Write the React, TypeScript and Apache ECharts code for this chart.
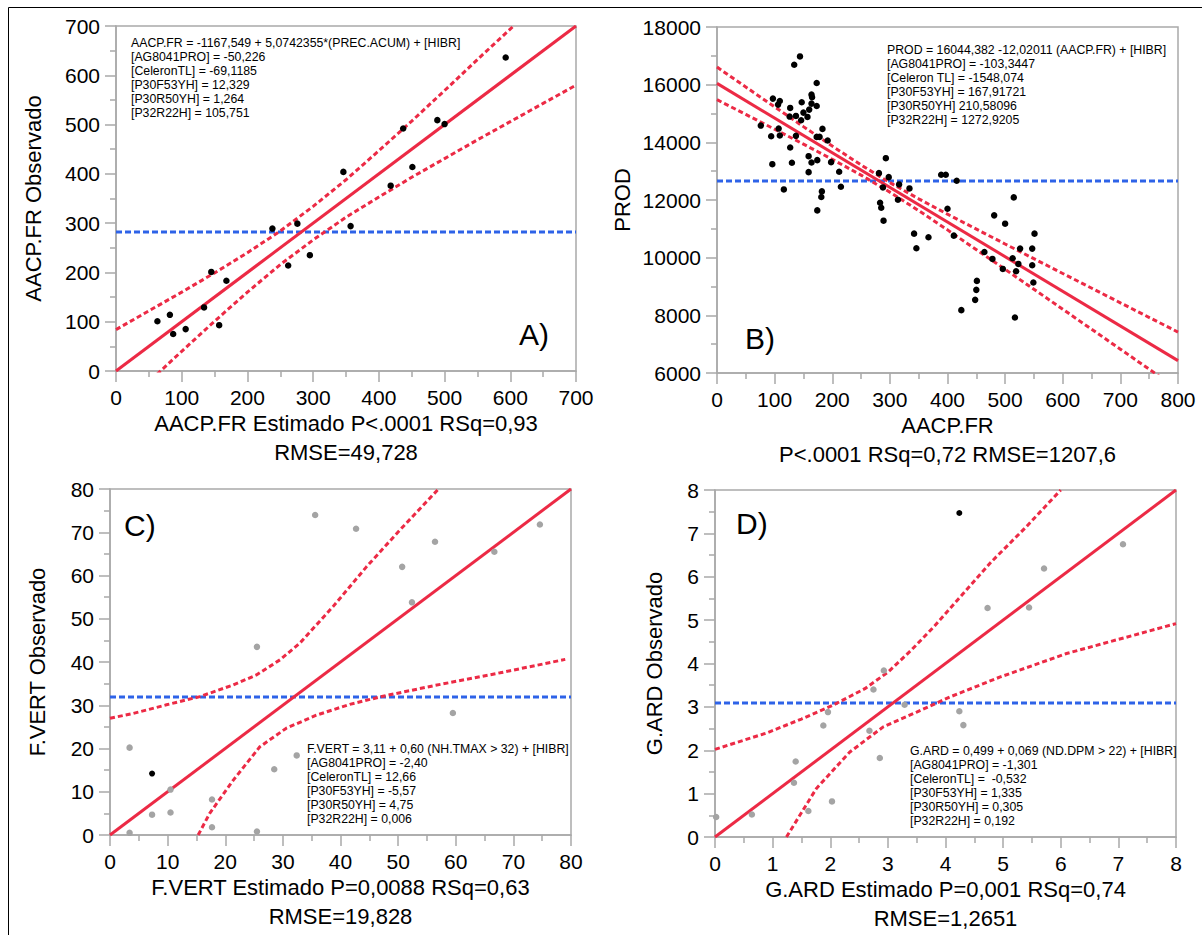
import React, { useEffect, useRef } from "react";
import * as echarts from "echarts";

const FONT = "'Liberation Sans', Arial, Helvetica, sans-serif";
const RED = "#ec2a45";
const BLUE = "#2e63e8";
const FRAME = "#a9a9a9";
const GRAY_PT = "#a4a4a4";

// Panel A
const aPoints: number[][] = [[63,101],[82,114],[87,75],[106,85],[134,129],[145,201],[157,93],[168,183],[238,289],[262,214],[276,299],[295,235],[346,404],[357,294],[418,376],[437,492],[451,414],[489,509],[500,501],[593,636]];
const aFit: number[][] = [[0,0],[700,700]];
const aUpper: number[][] = [[0,84],[50,122],[100,160],[150,199],[200,240],[250,284],[300,334],[350,388],[400,447],[450,507],[500,569],[550,632],[605,700]];
const aLower: number[][] = [[0,-84],[50,-22],[100,40],[150,101],[200,160],[250,216],[300,266],[350,312],[400,353],[450,393],[500,431],[550,469],[600,506],[650,543],[700,580]];
const aMean = 282;

// Panel B
const bPoints: number[][] = [[76,14581],[94,14212],[96,13243],[97,15516],[106,15308],[109,15435],[107,14477],[109,14235],[116,12367],[127,15193],[126,14893],[127,13820],[130,13290],[134,16692],[137,14916],[137,14224],[144,16980],[146,14766],[147,15389],[150,15031],[157,14881],[160,15135],[159,13520],[159,12966],[164,15654],[165,15562],[164,15343],[164,13301],[173,16058],[173,15262],[173,14189],[178,14189],[174,13382],[183,14466],[182,12298],[181,12102],[174,11640],[192,14062],[198,13313],[212,12978],[215,12459],[281,12932],[293,13451],[298,12793],[288,12436],[283,11905],[285,11732],[289,11283],[316,12540],[314,12009],[334,12401],[342,10833],[346,10325],[367,10706],[389,12874],[397,12874],[416,12667],[400,11698],[411,10764],[464,10198],[478,9956],[481,11467],[500,11179],[496,9610],[513,9979],[515,12090],[519,9529],[523,9783],[526,10314],[547,10314],[547,9737],[549,9137],[551,10833],[451,9195],[450,8884],[448,8537],[424,8180],[517,7926]];
const bFit: number[][] = [[0,16044],[800,6428]];
const bUpper: number[][] = [[0,16609],[50,15918],[100,15229],[150,14545],[200,13869],[250,13215],[300,12604],[350,12041],[400,11508],[500,10474],[600,9452],[700,8434],[800,7419]];
const bLower: number[][] = [[0,15479],[50,14968],[100,14455],[150,13937],[200,13411],[250,12863],[300,12272],[350,11632],[400,10964],[500,9594],[600,8212],[700,6826],[800,5437]];
const bMean = 12660;

// Panel C
const cGray: number[][] = [[3.4,20.2],[3.4,0.5],[7.3,4.7],[10.5,10.5],[10.5,5.2],[17.7,8.2],[17.7,1.8],[25.5,43.5],[25.5,0.8],[28.5,15.2],[32.4,18.4],[35.6,74],[42.7,70.8],[50.7,62],[52.4,53.8],[56.4,67.8],[59.5,28.2],[66.7,65.5],[74.6,71.8]];
const cBlack: number[][] = [[7.3,14.2]];
const cFit: number[][] = [[0,0],[80,80]];
const cUpper: number[][] = [[0,27],[4,28.1],[9.8,30.1],[15.6,32],[21.4,34.7],[25.4,37],[29.5,40.5],[32.9,44.3],[38.7,52.8],[44.5,62],[50.3,70.5],[57,80]];
const cLower: number[][] = [[15.3,0],[17.3,5],[21.4,12.7],[26,20.4],[30.6,24.7],[35.8,27.7],[41.6,30.2],[47.4,32.1],[56.1,34.5],[67.7,37.5],[79,40.6]];
const cMean = 31.9;

// Panel D
const dGray: number[][] = [[0.02,0.46],[0.64,0.52],[1.4,1.74],[1.37,1.25],[1.62,0.6],[2.03,0.82],[1.88,2.57],[1.96,2.88],[2.68,2.45],[2.75,3.4],[2.93,3.84],[2.86,1.82],[3.29,3.05],[4.24,2.9],[4.31,2.58],[4.73,5.28],[5.45,5.29],[5.71,6.19],[7.08,6.75]];
const dBlack: number[][] = [[4.24,7.47]];
const dFit: number[][] = [[0,0],[8,8]];
const dUpper: number[][] = [[0,2.02],[0.9,2.4],[1.5,2.72],[2.05,3.04],[2.6,3.42],[3.0,3.8],[3.4,4.3],[3.8,4.85],[4.3,5.6],[4.8,6.35],[5.4,7.15],[6.0,8.0]];
const dLower: number[][] = [[1.24,0],[1.76,1.12],[2.34,1.96],[2.92,2.54],[3.5,2.88],[4.08,3.23],[4.95,3.69],[6.1,4.23],[7.26,4.65],[8,4.92]];
const dMean = 3.09;

const xNames = [
  "AACP.FR Estimado P<.0001 RSq=0,93\nRMSE=49,728",
  "AACP.FR\nP<.0001 RSq=0,72 RMSE=1207,6",
  "F.VERT Estimado P=0,0088 RSq=0,63\nRMSE=19,828",
  "G.ARD Estimado P=0,001 RSq=0,74\nRMSE=1,2651",
];
const yNames = ["AACP.FR Observado", "PROD", "F.VERT Observado", "G.ARD Observado"];

const notes = [
  "AACP.FR = -1167,549 + 5,0742355*(PREC.ACUM) + [HIBR]\n[AG8041PRO] = -50,226\n[CeleronTL] = -69,1185\n[P30F53YH] = 12,329\n[P30R50YH] = 1,264\n[P32R22H] = 105,751",
  "PROD = 16044,382 -12,02011 (AACP.FR) + [HIBR]\n[AG8041PRO] = -103,3447\n[Celeron TL] = -1548,074\n[P30F53YH] = 167,91721\n[P30R50YH] 210,58096\n[P32R22H] = 1272,9205",
  "F.VERT = 3,11 + 0,60 (NH.TMAX > 32) + [HIBR]\n[AG8041PRO] = -2,40\n[CeleronTL] = 12,66\n[P30F53YH] = -5,57\n[P30R50YH] = 4,75\n[P32R22H] = 0,006",
  "G.ARD = 0,499 + 0,069 (ND.DPM > 22) + [HIBR]\n[AG8041PRO] = -1,301\n[CeleronTL] =  -0,532\n[P30F53YH] = 1,335\n[P30R50YH] = 0,305\n[P32R22H] = 0,192",
];
const letters = ["A)", "B)", "C)", "D)"];

export default function App() {
  const ref = useRef<HTMLDivElement>(null);
  useEffect(() => {
    if (!ref.current) return;
    const chart = echarts.init(ref.current, undefined, { renderer: "svg" });

    const grids = [
      { left: 116, top: 26, width: 460, height: 345 },
      { left: 717, top: 27, width: 461, height: 346 },
      { left: 110, top: 489, width: 461, height: 346 },
      { left: 715, top: 490, width: 461, height: 347 },
    ].map((g) => ({ ...g, show: true, borderColor: FRAME, borderWidth: 1.5, backgroundColor: "transparent" }));

    const ranges = [
      { x: [0, 700, 100], y: [0, 700, 100], yGap: 72 },
      { x: [0, 800, 100], y: [6000, 18000, 2000], yGap: 84 },
      { x: [0, 80, 10], y: [0, 80, 10], yGap: 62 },
      { x: [0, 8, 1], y: [0, 8, 1], yGap: 50 },
    ];

    const axisCommon = (gi: number) => ({
      type: "value",
      gridIndex: gi,
      axisLine: { show: true, onZero: false, lineStyle: { color: FRAME, width: 1.5 } },
      axisTick: { show: true, length: 11, lineStyle: { color: FRAME, width: 1.5 } },
      minorTick: { show: true, splitNumber: 2, length: 6, lineStyle: { color: FRAME, width: 1.5 } },
      splitLine: { show: false },
      axisLabel: { color: "#000", fontSize: 21, fontFamily: FONT, margin: 16, formatter: (v: number) => String(v) },
      nameLocation: "middle",
    });

    const xAxis = ranges.map((r, i) => ({
      ...axisCommon(i),
      min: r.x[0], max: r.x[1], interval: r.x[2],
      name: xNames[i],
      nameGap: 35,
      nameTextStyle: { color: "#000", fontSize: 22, fontFamily: FONT, lineHeight: 29 },
    }));
    const yAxis = ranges.map((r, i) => ({
      ...axisCommon(i),
      min: r.y[0], max: r.y[1], interval: r.y[2],
      name: yNames[i],
      nameGap: r.yGap,
      nameTextStyle: { color: "#000", fontSize: 22, fontFamily: FONT },
    }));

    const lineS = (gi: number, data: number[][], color: string, type: any, width = 3) => ({
      type: "line",
      xAxisIndex: gi,
      yAxisIndex: gi,
      data,
      showSymbol: false,
      symbol: "none",
      silent: true,
      clip: true,
      z: 2,
      lineStyle: { color, width, type },
    });
    const scat = (gi: number, data: number[][], color: string, size: number) => ({
      type: "scatter",
      xAxisIndex: gi,
      yAxisIndex: gi,
      data,
      symbolSize: size,
      silent: true,
      z: 3,
      itemStyle: { color, opacity: 1 },
    });

    const panels = [
      { fit: aFit, up: aUpper, lo: aLower, mean: aMean, xr: [0, 700] },
      { fit: bFit, up: bUpper, lo: bLower, mean: bMean, xr: [0, 800] },
      { fit: cFit, up: cUpper, lo: cLower, mean: cMean, xr: [0, 80] },
      { fit: dFit, up: dUpper, lo: dLower, mean: dMean, xr: [0, 8] },
    ];
    const series: any[] = [];
    panels.forEach((p, i) => {
      series.push(lineS(i, [[p.xr[0], p.mean], [p.xr[1], p.mean]], BLUE, [6, 3]));
      series.push(lineS(i, p.up, RED, [5, 3]));
      series.push(lineS(i, p.lo, RED, [5, 3]));
      series.push(lineS(i, p.fit, RED, "solid"));
    });
    series.push(scat(0, aPoints, "#000", 6.5));
    series.push(scat(1, bPoints, "#000", 6.5));
    series.push(scat(2, cGray, GRAY_PT, 6.5));
    series.push(scat(2, cBlack, "#000", 6));
    series.push(scat(3, dGray, GRAY_PT, 6.5));
    series.push(scat(3, dBlack, "#000", 6));

    const notePos = [[131, 36], [887, 43], [307, 742], [910, 744]];
    const letterPos = [[519, 334], [745, 338], [124, 525], [736, 523]];
    const graphic: any[] = [
      { type: "line", shape: { x1: 8.5, y1: 7.5, x2: 8.5, y2: 935 }, style: { stroke: "#000", lineWidth: 1 }, silent: true },
      { type: "line", shape: { x1: 8.5, y1: 7.5, x2: 1202, y2: 7.5 }, style: { stroke: "#000", lineWidth: 1 }, silent: true },
    ];
    notes.forEach((t, i) => {
      graphic.push({
        type: "text", x: notePos[i][0], y: notePos[i][1], silent: true,
        style: { text: t, fontSize: 12.3, fontFamily: FONT, lineHeight: 14, fill: "#000", align: "left", verticalAlign: "top" },
      });
    });
    letters.forEach((t, i) => {
      graphic.push({
        type: "text", x: letterPos[i][0], y: letterPos[i][1], silent: true,
        style: { text: t, fontSize: 30, fontFamily: FONT, fill: "#000", align: "left", verticalAlign: "middle" },
      });
    });

    chart.setOption({
      animation: false,
      backgroundColor: "#fff",
      grid: grids,
      xAxis,
      yAxis,
      series,
      graphic,
    });
    return () => chart.dispose();
  }, []);
  return <div ref={ref} style={{ position: "fixed", left: 0, top: 0, width: 1202, height: 935 }} />;
}
